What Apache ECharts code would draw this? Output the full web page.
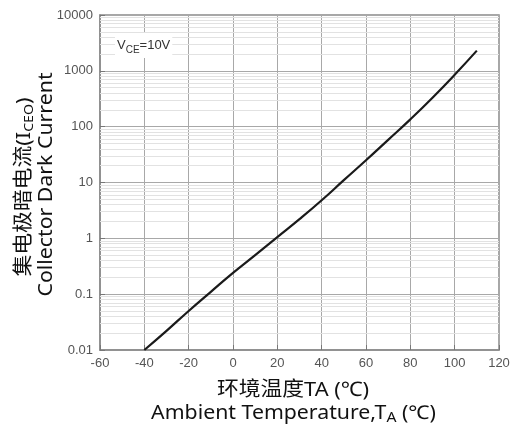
<!DOCTYPE html>
<html>
<head>
<meta charset="utf-8">
<script src="https://cdn.jsdelivr.net/npm/echarts@6/dist/echarts.min.js"></script>
<style>
html,body{margin:0;padding:0;background:#fff;}
#c{width:518px;height:430px;}
</style>
</head>
<body>
<div id="c"></div>
<script>
// Data
const temps = [-40, -30, -20, -10, 0, 10, 20, 30, 40, 50, 60, 70, 80, 90, 100, 110];
const darkCurrent = [0.01, 0.022, 0.05, 0.11, 0.24, 0.5, 1.05, 2.2, 4.8, 11, 25, 58, 135, 330, 850, 2300];
const xTicks = [-60, -40, -20, 0, 20, 40, 60, 80, 100, 120];
const yDecades = [0.01, 0.1, 1, 10, 100, 1000, 10000];
const minorMultipliers = [2, 3, 4, 5, 6, 7, 8, 9];

const minorLines = [];
for (let i = 0; i < yDecades.length - 1; i++) {
  minorMultipliers.forEach(m => minorLines.push({ yAxis: +(m * yDecades[i]).toPrecision(3) }));
}

const seriesData = temps.map((t, i) => [t, darkCurrent[i]]);

const chart = echarts.init(document.getElementById('c'));
const labelFont = '"Liberation Sans", Arial, sans-serif';
const titleFont = '"Noto Sans", "Noto Sans CJK SC", sans-serif';

chart.setOption({
  animation: false,
  backgroundColor: '#fff',
  grid: {
    left: 100, right: 19, top: 15, bottom: 80,
    show: true, borderColor: '#8a8a8a', borderWidth: 1.5, backgroundColor: 'transparent'
  },
  xAxis: {
    type: 'value', min: xTicks[0], max: xTicks[xTicks.length - 1], interval: 20,
    axisLine: { show: true, onZero: false, lineStyle: { color: '#8a8a8a', width: 1.5 } },
    axisTick: { show: true, inside: true, length: 5, lineStyle: { color: '#777' } },
    axisLabel: { color: '#555', fontSize: 13, fontFamily: labelFont, margin: 7 },
    splitLine: { show: true, lineStyle: { color: '#a8a8a8', width: 1 } }
  },
  yAxis: {
    type: 'log', logBase: 10, min: yDecades[0], max: yDecades[yDecades.length - 1],
    axisLine: { show: true, onZero: false, lineStyle: { color: '#8a8a8a', width: 1.5 } },
    axisTick: { show: true, inside: true, length: 5, lineStyle: { color: '#777' } },
    axisLabel: {
      color: '#555', fontSize: 13, fontFamily: labelFont, margin: 7,
      formatter: v => String(+v.toPrecision(3))
    },
    splitLine: { show: true, lineStyle: { color: '#a8a8a8', width: 1 } },
    minorTick: { show: false },
    minorSplitLine: { show: false }
  },
  series: [
    {
      type: 'line', data: seriesData, z: 1, silent: true,
      showSymbol: false, lineStyle: { opacity: 0 },
      markLine: {
        silent: true, symbol: ['none', 'none'], animation: false,
        label: { show: false },
        lineStyle: { color: '#e2e2e2', type: 'solid', width: 1 },
        emphasis: { disabled: true },
        data: minorLines
      }
    },
    {
      type: 'line', data: seriesData, z: 5,
      smooth: 0.5, showSymbol: false,
      lineStyle: { color: '#1a1a1a', width: 2.2 }
    }
  ],
  graphic: [
    {
      type: 'text', left: 115, top: 33, z: 10,
      style: {
        text: 'V{sub|CE}=10V',
        fill: '#333', font: '13px ' + labelFont,
        backgroundColor: '#fff', padding: [3, 2, 3, 2],
        rich: { sub: { fontSize: 10, fontFamily: labelFont, fill: '#333', padding: [9, 0, 0, 0] } }
      }
    },
    {
      type: 'text', x: 24, y: 187, rotation: Math.PI / 2, scaleX: 1.09,
      style: {
        text: '集电极暗电流(I{sub|CEO})',
        fill: '#111', font: '20px ' + titleFont, align: 'center', verticalAlign: 'middle',
        rich: { sub: { fontSize: 13, fontFamily: titleFont, fill: '#111', padding: [10, 0, 0, 0] } }
      }
    },
    {
      type: 'text', x: 47, y: 184.5, rotation: Math.PI / 2, scaleX: 1.12,
      style: {
        text: 'Collector Dark Current',
        fill: '#111', font: '19px ' + titleFont, align: 'center', verticalAlign: 'middle'
      }
    },
    {
      type: 'text', x: 293, y: 390, scaleX: 1.09,
      style: {
        text: '环境温度TA (℃)',
        fill: '#111', font: '20px ' + titleFont, align: 'center', verticalAlign: 'middle'
      }
    },
    {
      type: 'text', x: 293.5, y: 414, scaleX: 1.12,
      style: {
        text: 'Ambient Temperature,T{sub|A} (℃)',
        fill: '#111', font: '19px ' + titleFont, align: 'center', verticalAlign: 'middle',
        rich: { sub: { fontSize: 14, fontFamily: titleFont, fill: '#111', padding: [9, 0, 0, 0] } }
      }
    }
  ]
});
</script>
</body>
</html>
